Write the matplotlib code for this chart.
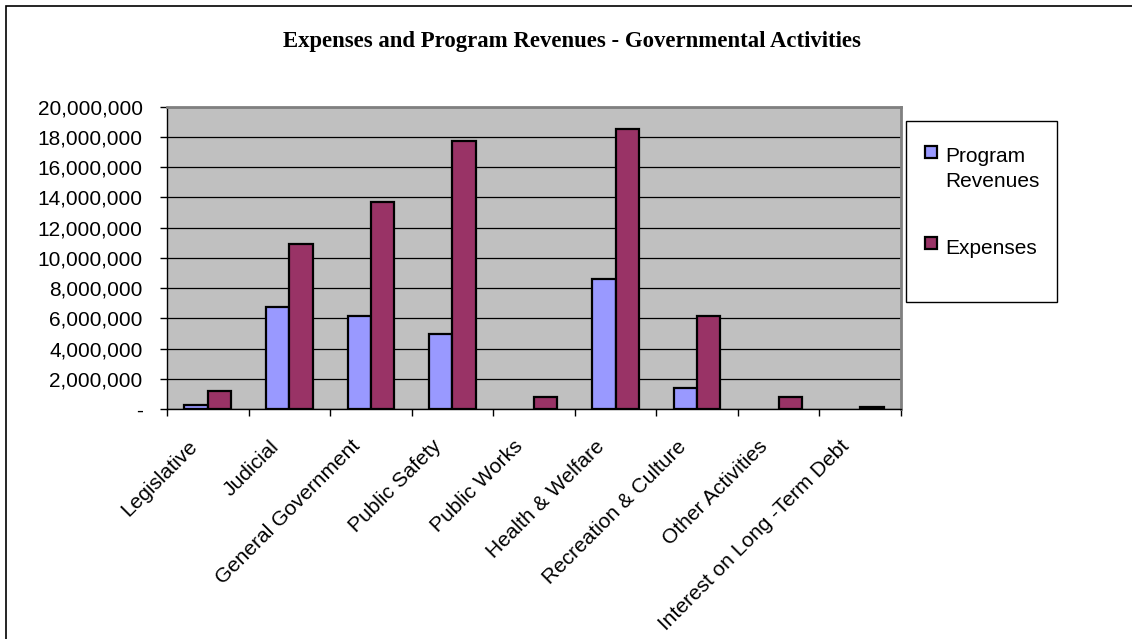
import matplotlib
matplotlib.use('Agg')
import matplotlib.pyplot as plt
import matplotlib.transforms as mtransforms
from matplotlib.patches import Rectangle
from matplotlib.ticker import FuncFormatter, MultipleLocator
import numpy as np

categories = ['Legislative', 'Judicial', 'General Government', 'Public Safety',
              'Public Works', 'Health & Welfare', 'Recreation & Culture',
              'Other Activities', 'Interest on Long -Term Debt']
program_revenues = [250000, 6750000, 6180000, 4950000, 0, 8610000, 1370000, 0, 0]
expenses = [1180000, 10900000, 13690000, 17730000, 820000, 18500000, 6140000, 800000, 160000]

rev_color = '#9999FF'
exp_color = '#993366'

plt.rcParams['font.family'] = ['Liberation Sans', 'DejaVu Sans']

W, H = 1132, 639
fig = plt.figure(figsize=(W / 100, H / 100), dpi=100)
fig.patch.set_facecolor('white')


def fx(px):
    return px / W


def fy(py):
    return 1 - py / H


# outer chart border (cropped on right/bottom in the reference)
fig.patches.append(Rectangle((fx(6), -0.1), 1.2, 1.1 - 6 / H, transform=fig.transFigure,
                             fill=False, edgecolor='black', linewidth=1.2))

ax = fig.add_axes([fx(167), fy(409), (901 - 167) / W, (409 - 106.7) / H])
ax.set_facecolor('#C0C0C0')

x = np.arange(len(categories))
w = 0.286
b1 = ax.bar(x - w / 2, program_revenues, w, color=rev_color, edgecolor='black',
            linewidth=1.6, zorder=3)
b2 = ax.bar(x + w / 2, expenses, w, color=exp_color, edgecolor='black',
            linewidth=1.6, zorder=3)
# Excel draws nothing for empty values
for bar in list(b1) + list(b2):
    if bar.get_height() == 0:
        bar.set_visible(False)

ax.set_xlim(-0.5, len(categories) - 0.5)
ax.set_ylim(0, 20000000)
ax.yaxis.set_major_locator(MultipleLocator(2000000))
ax.yaxis.set_major_formatter(FuncFormatter(lambda v, p: '-' if v == 0 else f'{v:,.0f}'))
ax.grid(axis='y', color='black', linewidth=0.9, zorder=1)
ax.set_axisbelow(True)

ax.set_xticks(x)
ax.set_xticklabels(categories, rotation=45, ha='right', fontsize=15)
ax.set_xticks(np.arange(len(categories) + 1) - 0.5, minor=True)
ax.tick_params(axis='x', which='major', length=0, pad=20)
ax.tick_params(axis='x', which='minor', length=5, width=1, direction='out', color='black')
ax.tick_params(axis='y', length=5, width=1, direction='out', pad=12.5, labelsize=15)
offset = mtransforms.ScaledTranslation(-7 / 100, 0, fig.dpi_scale_trans)
for lbl in ax.get_xticklabels():
    lbl.set_transform(lbl.get_transform() + offset)

for side in ['left', 'bottom']:
    ax.spines[side].set_color('black')
    ax.spines[side].set_linewidth(1.0)
for side in ['top', 'right']:
    ax.spines[side].set_color('#808080')
    ax.spines[side].set_linewidth(2.0)

fig.text(fx(572), fy(46.5), 'Expenses and Program Revenues - Governmental Activities',
         ha='center', va='baseline', fontsize=16.4, fontweight='bold',
         family=['Liberation Serif', 'DejaVu Serif'])

# legend box
fig.patches.append(Rectangle((fx(906), fy(302)), 151 / W, 181 / H,
                             transform=fig.transFigure, facecolor='white',
                             edgecolor='black', linewidth=1.0))
legend_items = [(['Program', 'Revenues'], rev_color, 146), (['Expenses'], exp_color, 237)]
for lines, color, top in legend_items:
    fig.patches.append(Rectangle((fx(925), fy(top + 12)), 12 / W, 12 / H,
                                 transform=fig.transFigure, facecolor=color,
                                 edgecolor='black', linewidth=1.6))
    for i, line in enumerate(lines):
        fig.text(fx(945), fy(top + 16.5 + i * 24.7), line, ha='left', va='baseline',
                 fontsize=15)

fig.savefig('out.png', dpi=100)
